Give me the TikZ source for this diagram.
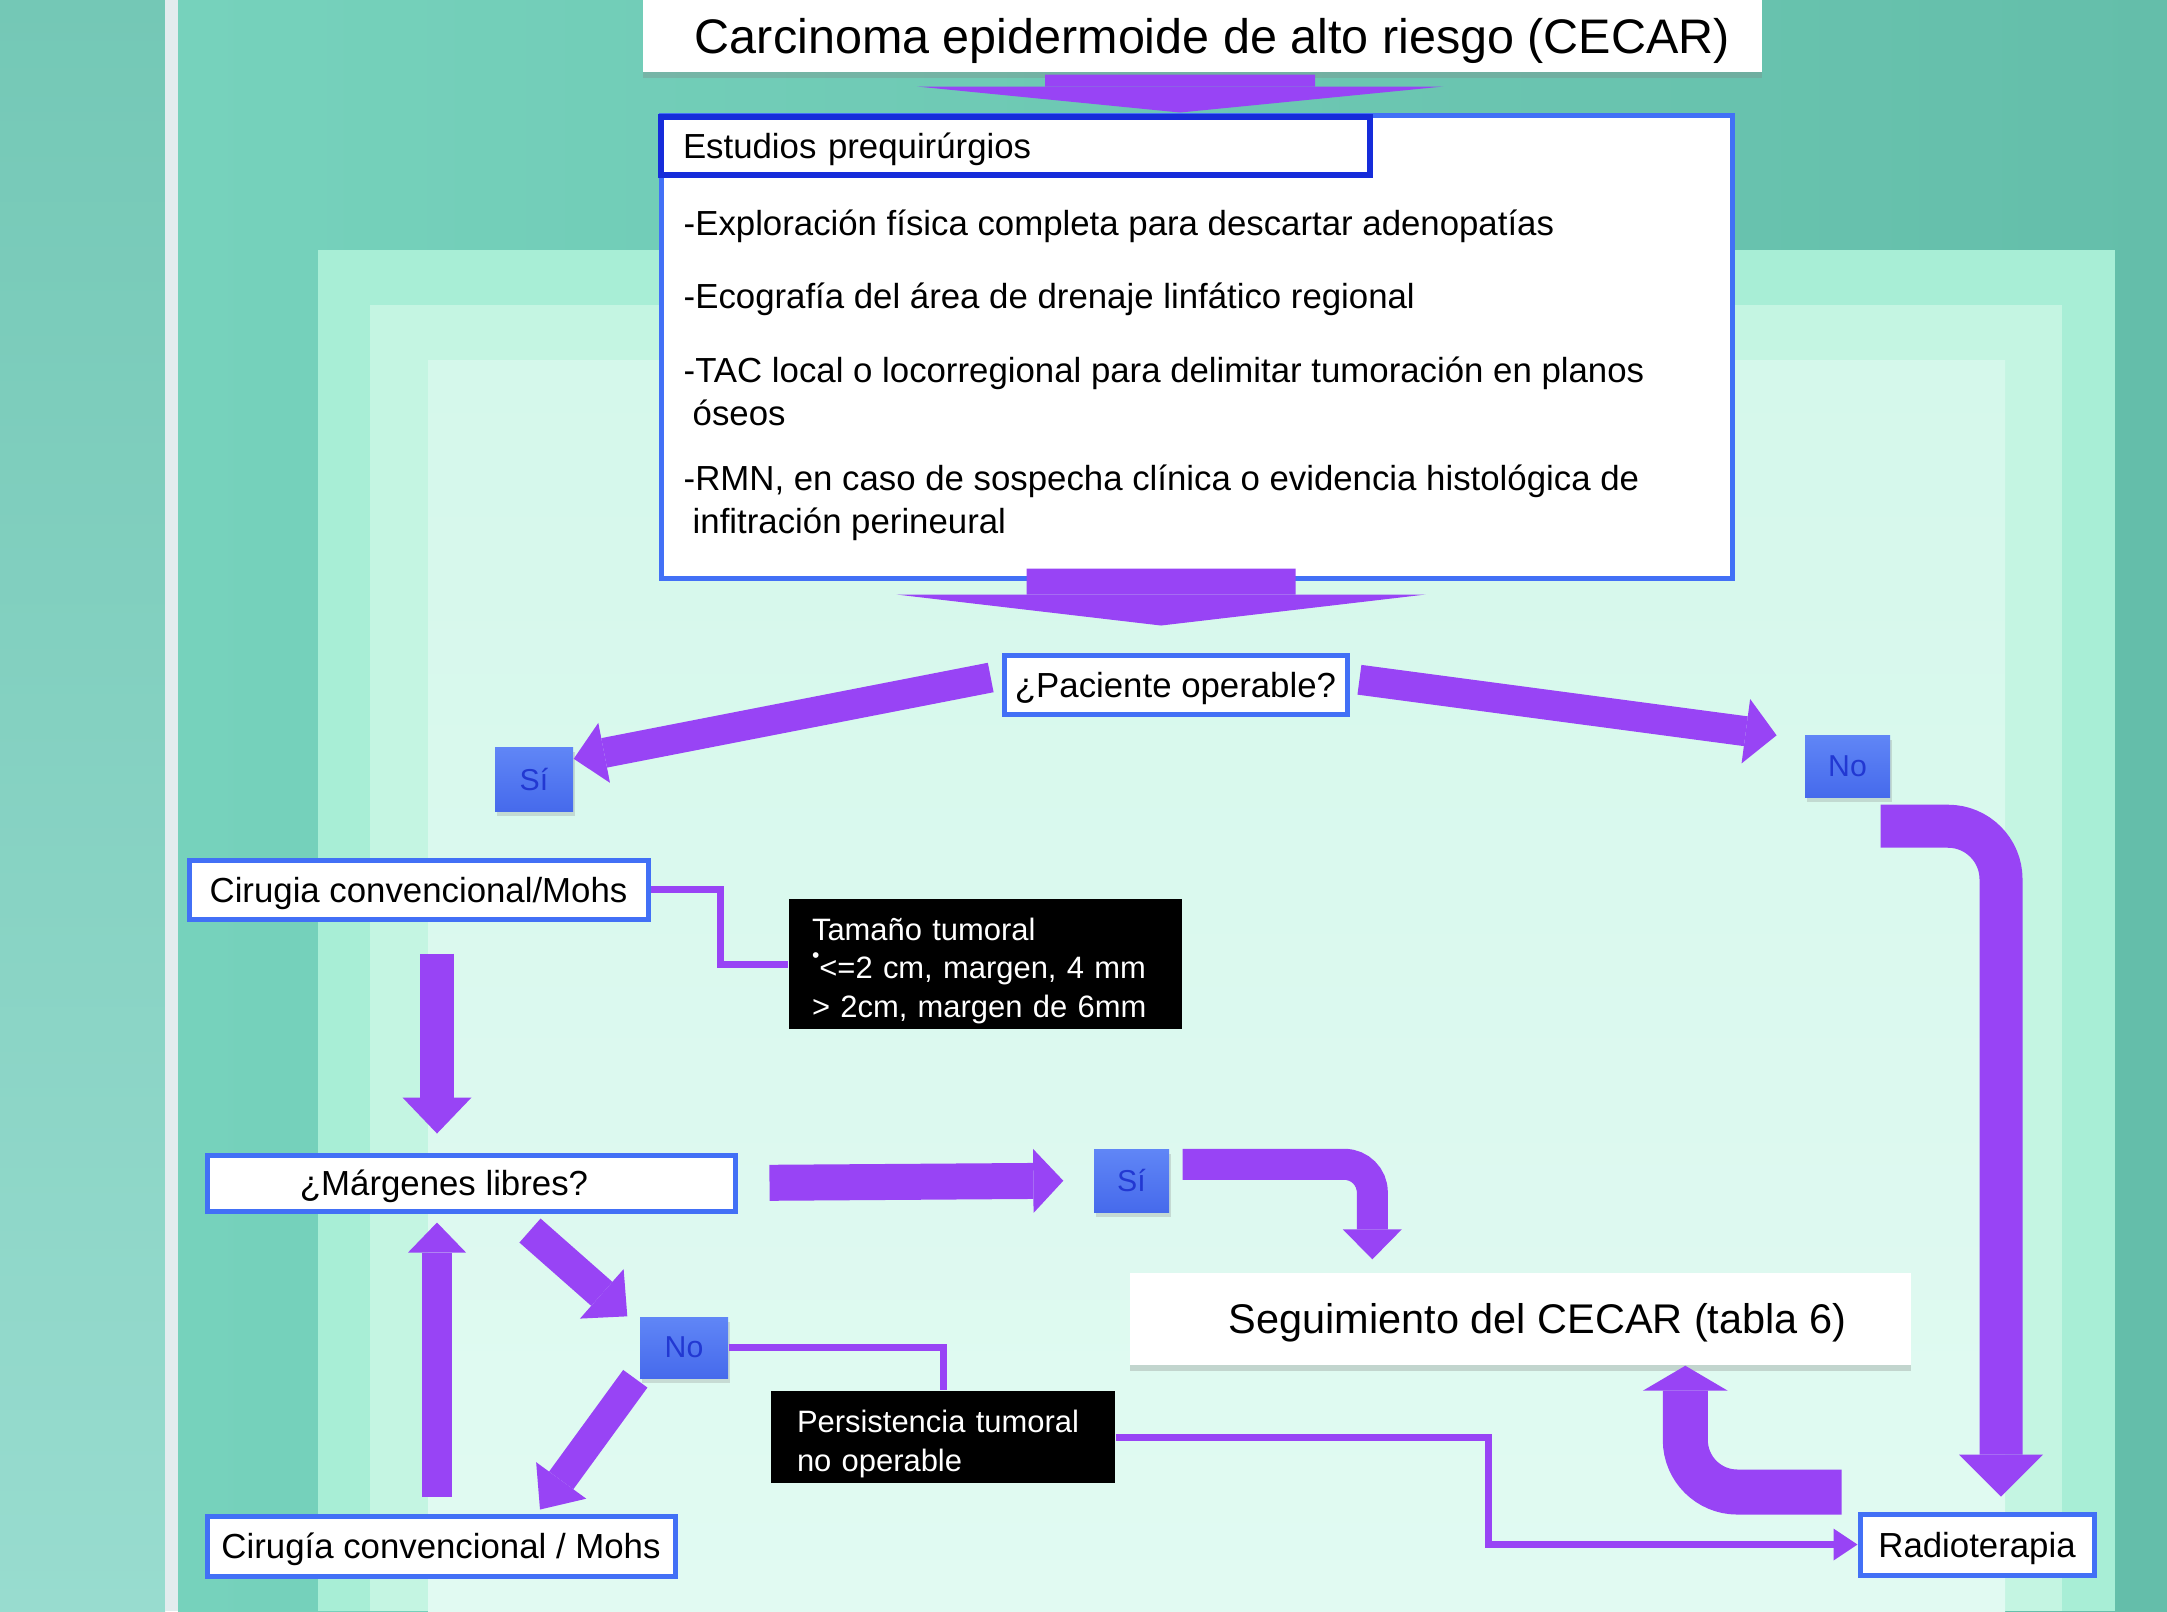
\documentclass[tikz,border=0pt]{standalone}
\usepackage{fontspec}
\setmainfont{Liberation Sans}
\usetikzlibrary{arrows.meta,shadows}

\definecolor{morado}{RGB}{152,68,245}
\definecolor{azulcaja}{RGB}{66,112,246}
\definecolor{azulfuerte}{RGB}{22,44,218}
\definecolor{sinoarriba}{RGB}{96,134,246}
\definecolor{sinoabajo}{RGB}{70,106,236}
\definecolor{textosino}{RGB}{34,56,210}
\definecolor{izqarriba}{RGB}{116,200,182}
\definecolor{izqabajo}{RGB}{152,220,207}
\definecolor{lineablanca}{RGB}{226,236,238}
\definecolor{fondoa}{RGB}{118,210,188}
\definecolor{fondob}{RGB}{138,228,204}
\definecolor{fondoc}{RGB}{100,190,170}
\definecolor{marco1}{RGB}{168,238,214}
\definecolor{marco2}{RGB}{196,245,226}
\definecolor{marco3}{RGB}{213,248,235}
\definecolor{marco4}{RGB}{225,250,242}

\newcommand{\fuente}[2]{\fontsize{#1}{#2}\selectfont}

\begin{document}
\begin{tikzpicture}[x=0.1mm,y=-0.1mm,
  caja/.style={draw=azulcaja, line width=0.5mm, fill=white, inner sep=0pt, font=\fuente{9.9}{12},
    text height=9.1pt, text depth=2pt},
  sino/.style={top color=sinoarriba, bottom color=sinoabajo, text=textosino, inner sep=0pt, font=\fuente{8.6}{10},
    drop shadow={opacity=0.25, shadow xshift=0.2mm, shadow yshift=-0.5mm}},
  negra/.style={fill=black, text=white, inner sep=0pt, align=left, font=\fuente{8.8}{11}},
  lista/.style={anchor=base west, inner sep=0pt, font=\fuente{9.9}{12}},
  gorda/.style={draw=morado, line width=#1},
  fina/.style={draw=morado, line width=0.7mm}]

\useasboundingbox (0,0) rectangle (2167,1611);

% fondo
\shade[top color=izqarriba, bottom color=izqabajo] (0,0) rectangle (165,1611);
\fill[lineablanca] (165,0) rectangle (178,1611);
\shade[left color=fondoa, middle color=fondob, right color=fondoc] (178,0) rectangle (2167,1611);
\fill[marco1] (318,250) rectangle (2115,1611);
\fill[marco2] (370,305) rectangle (2062,1611);
\shade[top color=marco3, bottom color=marco4] (428,360) rectangle (2005,1611);

% cajas
\node[caja, draw=none, minimum width=111.9mm, minimum height=7.2mm, font=\fuente{13.8}{16},
  text height=12.7pt, text depth=2.8pt,
  drop shadow={opacity=0.3, shadow xshift=0mm, shadow yshift=-0.6mm}] (titulo) at (1202.5,36)
  {\hspace*{2mm}Carcinoma epidermoide de alto riesgo (CECAR)};

\node[caja, minimum width=107.1mm, minimum height=46.3mm] (estudios) at (1196.5,346.5) {};
\node[caja, draw=azulfuerte, line width=0.6mm, minimum width=70.9mm, minimum height=5.8mm,
  text width=66.5mm, align=left] (cabecera) at (1015.5,146) {\rule{0pt}{9.6pt}Estudios prequirúrgios};

\foreach \n/\xx/\yy/\texto in {1/683/235/{-Exploración física completa para descartar adenopatías},
  2/683/308/{-Ecografía del área de drenaje linfático regional},
  3/683/382/{-TAC local o locorregional para delimitar tumoración en planos},
  4/692/425/{óseos},
  5/683/490/{-RMN, en caso de sospecha clínica o evidencia histológica de},
  6/692/533/{infitración perineural}}{
\node[lista] (est\n) at (\xx,\yy) {\texto};
}

\node[caja, minimum width=34.3mm, minimum height=5.9mm] (paciente) at (1175.5,684.5) {¿Paciente operable?};
\node[sino, minimum width=7.8mm, minimum height=6.4mm] (si1) at (534,779) {Sí};
\node[sino, minimum width=8.5mm, minimum height=6.2mm] (no1) at (1847.5,766) {No};

\node[caja, minimum width=45.9mm, minimum height=5.9mm] (cirugia1) at (418.5,889.5) {Cirugia convencional/Mohs};
\node[negra, text width=34.7mm, inner xsep=2.3mm, minimum height=13mm] (tamano) at (985.5,964)
  {\rule{0pt}{10.2pt}Tamaño tumoral\\\raisebox{1ex}{\fuente{6}{6}•}<=2 cm, margen, 4 mm\\> 2cm, margen de 6mm};

\node[caja, minimum width=52.8mm, minimum height=5.6mm] (margenes) at (471,1183) {¿Márgenes libres?\hspace*{5.4mm}};
\node[sino, minimum width=7.5mm, minimum height=6.3mm] (si2) at (1131.5,1180.5) {Sí};

\node[fill=white, inner sep=0pt, minimum width=78.1mm, minimum height=9.2mm, font=\fuente{11.8}{14},
  text height=10.9pt, text depth=2.4pt,
  drop shadow={opacity=0.3, shadow xshift=0mm, shadow yshift=-0.6mm}] (seguimiento) at (1520.5,1319)
  {\hspace*{3.4mm}Seguimiento del CECAR (tabla 6)};

\node[sino, minimum width=8.8mm, minimum height=6.1mm] (no2) at (684,1347.5) {No};
\node[negra, text width=29.2mm, inner xsep=2.6mm, minimum height=9.2mm] (persist) at (943,1437)
  {\rule{0pt}{10.3pt}Persistencia tumoral\\no operable};

\node[caja, minimum width=46.8mm, minimum height=6mm] (cirugia2) at (441,1546) {Cirugía convencional / Mohs};
\node[caja, minimum width=23.4mm, minimum height=6.1mm] (radio) at (1977,1544.5) {Radioterapia};

\coordinate (colA) at (437,0);

% flechas gruesas
\draw[gorda=27mm, -{Triangle[length=2.6mm,width=52.6mm,line width=0pt]}] ([xshift=-2.25mm]titulo.south) -- ([xshift=-1.65mm]estudios.north);
\draw[gorda=26.9mm, -{Triangle[length=3.1mm,width=52.9mm,line width=0pt]}] ([xshift=-3.55mm,yshift=1.2mm]estudios.south) -- ([xshift=-1.45mm,yshift=2.7mm]paciente.north);
\draw[gorda=3mm, -{Triangle[length=3.1mm,width=6.1mm,line width=0pt]}, shorten <=1.1mm] (paciente.177) -- (si1.27);
\draw[gorda=3mm, -{Triangle[length=3.1mm,width=6.5mm,line width=0pt]}, shorten <=1mm, shorten >=2.8mm] (paciente.2) -- (no1.148);
\draw[gorda=3.4mm, -{Triangle[length=3.6mm,width=6.9mm,line width=0pt]}, shorten <=3.2mm, shorten >=1.9mm] (cirugia1.south -| colA) -- (margenes.north -| colA);
\draw[gorda=3mm, -{Triangle[length=3mm,width=5.8mm,line width=0pt]}, shorten <=1.7mm, shorten >=0.9mm] (cirugia2.north -| colA) -- (margenes.south -| colA);
\draw[gorda=3.6mm, -{Triangle[length=3mm,width=6.4mm,line width=0pt]}, shorten <=3.2mm, shorten >=3mm] (margenes.east) -- (si2.west);
\draw[gorda=3.1mm, rounded corners=2.8mm, -{Triangle[length=3mm,width=5.9mm,line width=0pt]}, shorten <=1.3mm, shorten >=1.3mm] (si2.23) -| ([xshift=24.3mm]seguimiento.north west);
\draw[gorda=4.5mm, rounded corners=5.2mm, -{Triangle[length=2.5mm,width=8.5mm,line width=0pt]}] ([xshift=-1.6mm,yshift=1.95mm]radio.north west) -| ([xshift=55.6mm]seguimiento.south west);
\draw[gorda=4.3mm, rounded corners=5.3mm, -{Triangle[length=4.2mm,width=8.4mm,line width=0pt]}, shorten >=1.5mm] ([xshift=-1mm,yshift=-2.85mm]no1.south east) -| ([xshift=2.4mm]radio.north);
\draw[gorda=3.2mm, -{Triangle[length=3.4mm,width=6.6mm,line width=0pt]}] ([xshift=5.9mm,yshift=-1.7mm]margenes.south) -- ([xshift=-1.2mm]no2.north west);
\draw[gorda=3mm, -{Triangle[length=3.6mm,width=6.2mm,line width=0pt]}] ([xshift=-0.4mm]no2.south west) -- ([xshift=9.9mm,yshift=0.4mm]cirugia2.north);

% lineas finas
\draw[fina] (cirugia1.east) -- ++(70,0) |- (tamano.west);
\draw[fina] (no2.east) -| (persist.north);
\draw[fina, -{Triangle[length=2.4mm,width=3.2mm,line width=0pt]}] (persist.east) -- ++(373,0) |- (radio.west);

\end{tikzpicture}
\end{document}
